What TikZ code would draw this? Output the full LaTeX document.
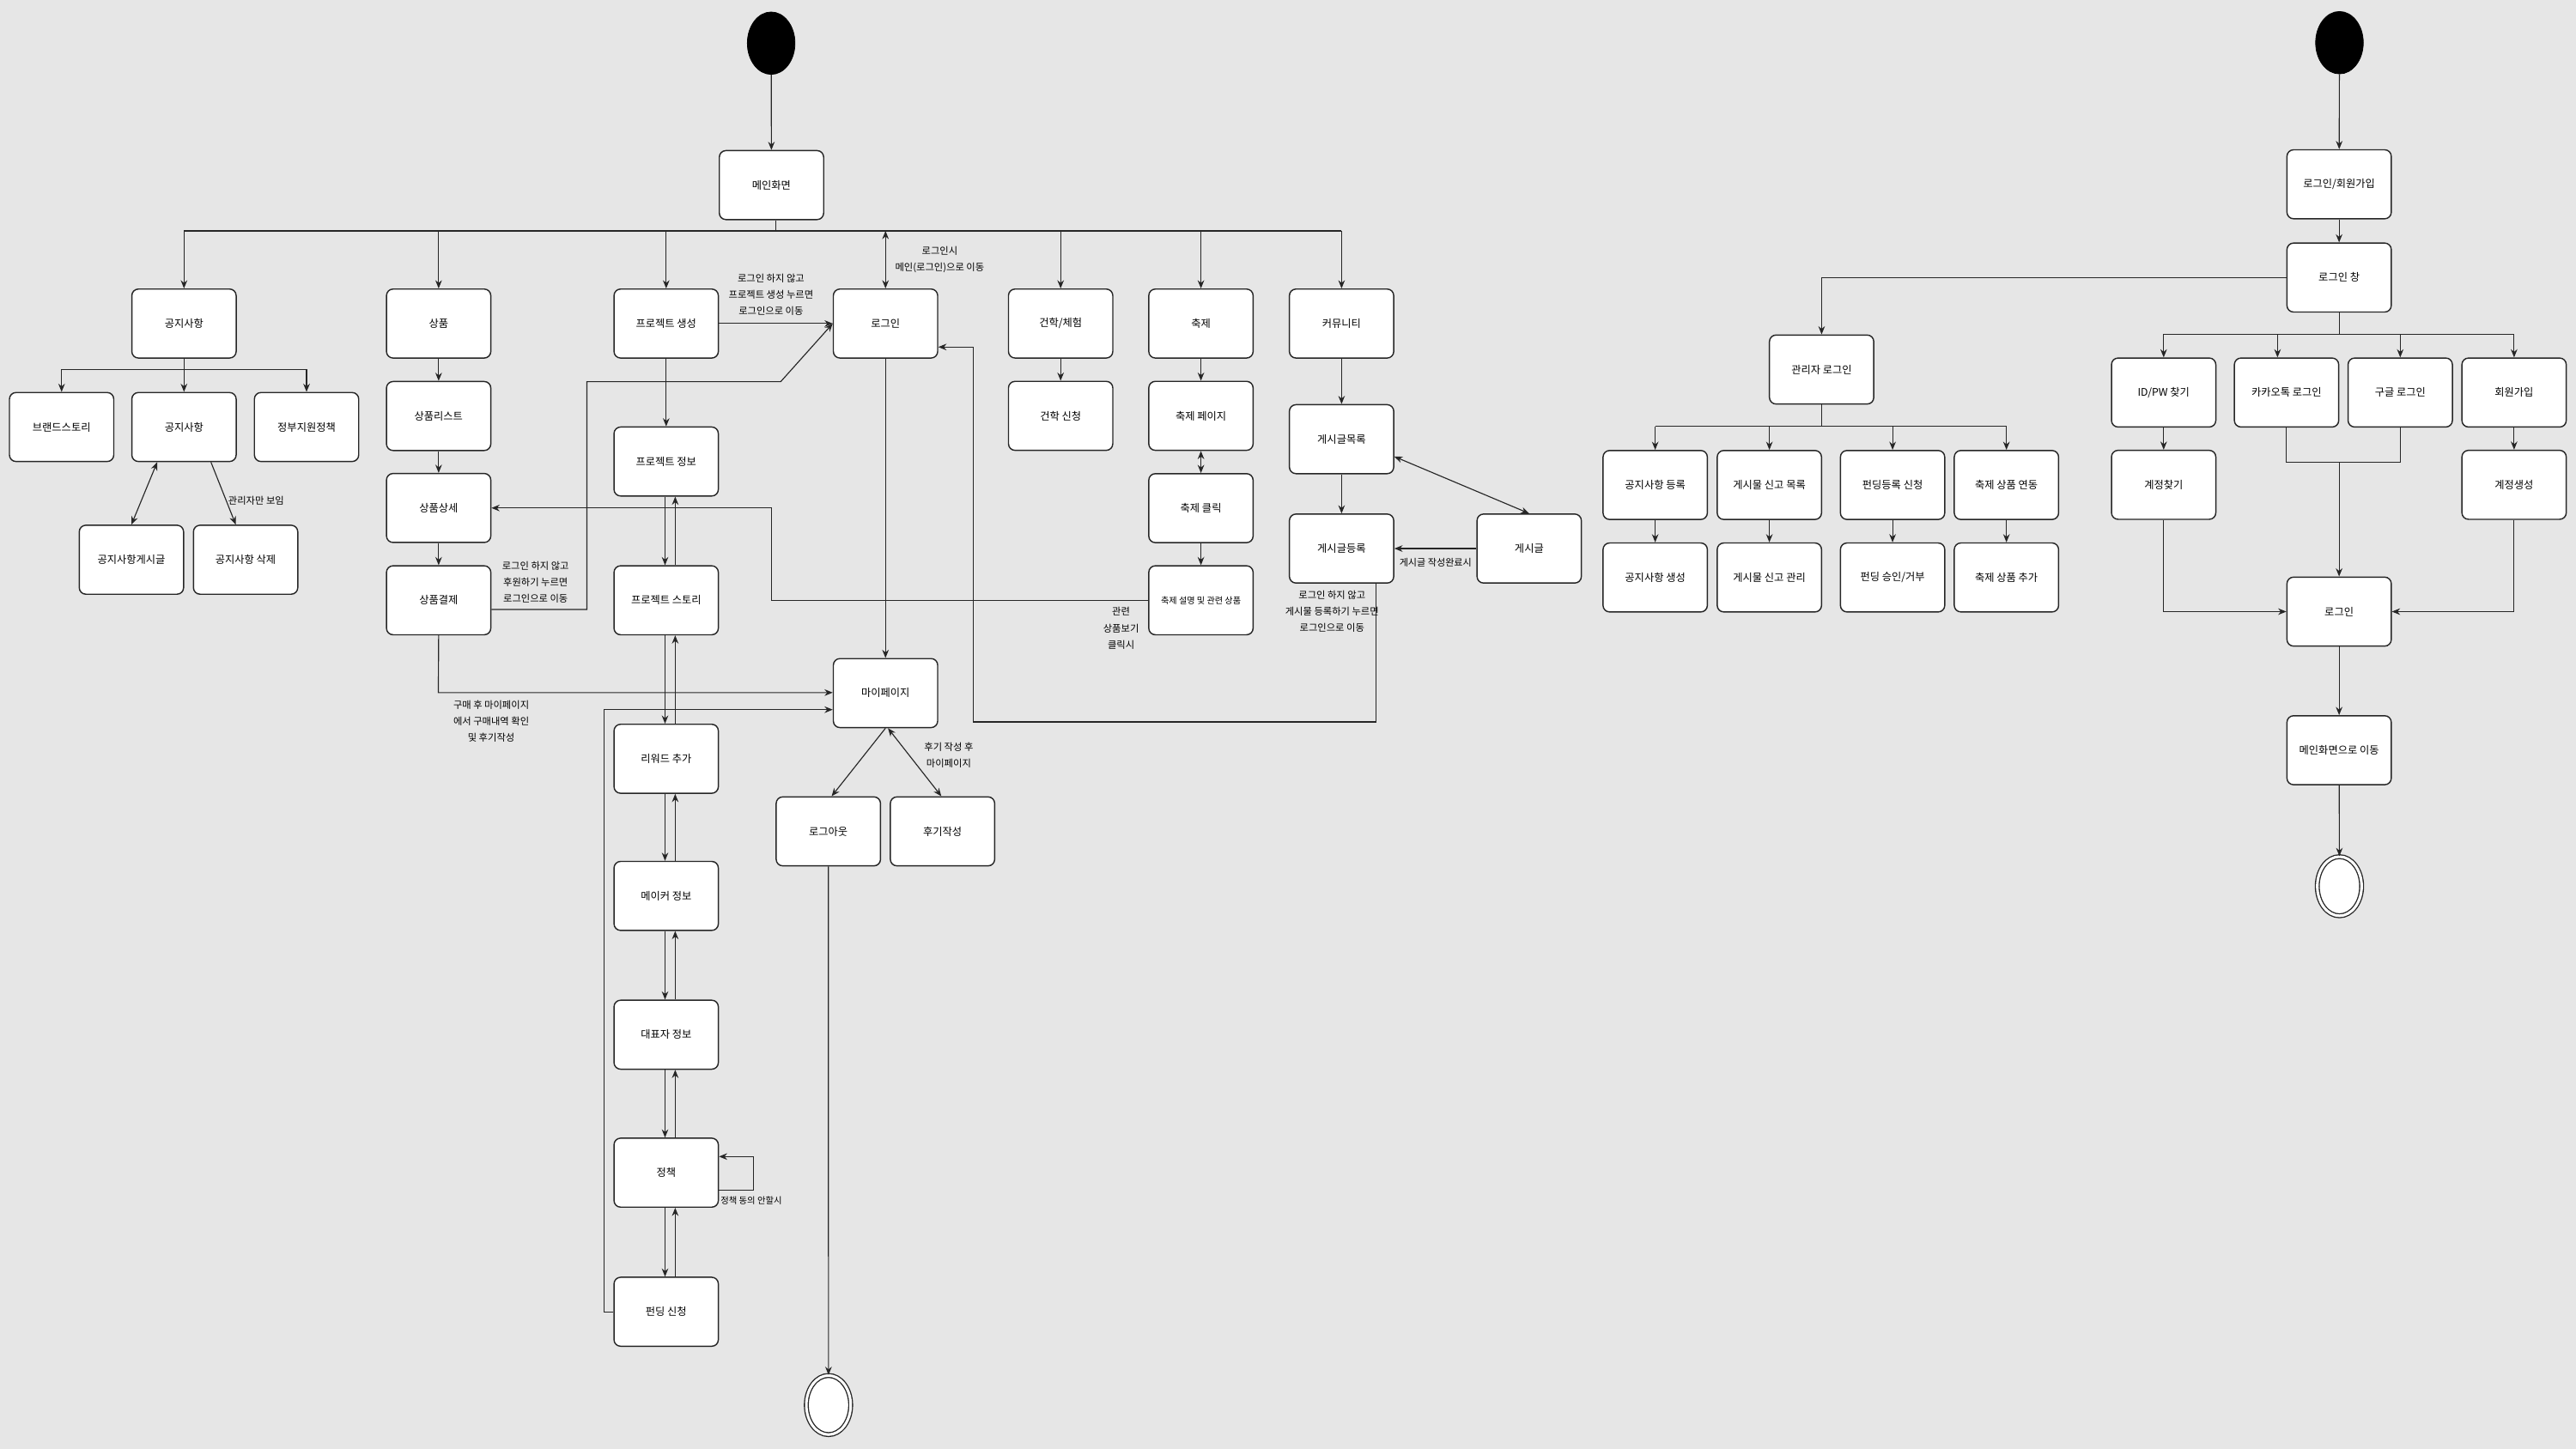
\documentclass[tikz,border=0pt]{standalone}
\usepackage{fontspec}
\setmainfont{Noto Sans CJK KR}
\usetikzlibrary{arrows.meta,shapes.geometric,calc}
\definecolor{bg}{HTML}{E6E6E6}
\definecolor{lnc}{HTML}{262626}
\begin{document}
\begin{tikzpicture}[x=1pt,y=-1pt,
  box/.style={draw=lnc, line width=0.75pt, fill=white, rounded corners=4pt, minimum width=63.5pt, minimum height=42pt, inner sep=1pt, font=\fontsize{6.4}{8}\selectfont, align=center},
  arr/.style={draw=lnc, line width=0.6pt, -{Stealth[length=5pt,width=4pt]}},
  darr/.style={draw=lnc, line width=0.6pt, {Stealth[length=5pt,width=4pt]}-{Stealth[length=5pt,width=4pt]}},
  lnst/.style={draw=lnc, line width=0.6pt},
  lbl/.style={font=\fontsize{5.9}{10}\selectfont, align=center, inner sep=0pt},
  startst/.style={ellipse, fill=black, draw=black, minimum width=29pt, minimum height=38pt, inner sep=0pt},
  endst/.style={ellipse, fill=white, draw=lnc, line width=0.7pt, double=white, double distance=1.6pt, minimum width=27pt, minimum height=36pt, inner sep=0pt}
]
\useasboundingbox (0,0) rectangle (1568,882);
\fill[bg] (0,0) rectangle (1568,882);

% ---------- left diagram nodes ----------
\node[startst] (s1) at (469.4,26.3) {};
\node[box] (main) at (469.6,112.7) {메인화면};
\node[box] (gongji) at (112,197) {공지사항};
\node[box] (sangpum) at (267,197) {상품};
\node[box] (proj) at (405.5,197) {프로젝트 생성};
\node[box] (login) at (539,197) {로그인};
\node[box] (gyunhak) at (645.6,197) {건학/체험};
\node[box] (chukje) at (731,197) {축제};
\node[box] (comm) at (816.6,197) {커뮤니티};
\node[box] (brand) at (37.5,260) {브랜드스토리};
\node[box] (gongji2) at (112,260) {공지사항};
\node[box] (jeongbu) at (186.6,260) {정부지원정책};
\node[box] (gpost) at (80,340.8) {공지사항게시글};
\node[box] (gdel) at (149.5,340.8) {공지사항 삭제};
\node[box] (plist) at (267,253.3) {상품리스트};
\node[box] (pdetail) at (267,309.3) {상품상세};
\node[box] (ppay) at (267,365.5) {상품결제};
\node[box] (pinfo) at (405.5,281) {프로젝트 정보};
\node[box] (pstory) at (405.5,365.5) {프로젝트 스토리};
\node[box] (reward) at (405.5,462) {리워드 추가};
\node[box] (maker) at (405.5,545.5) {메이커 정보};
\node[box] (ceo) at (405.5,630) {대표자 정보};
\node[box] (policy) at (405.5,714) {정책};
\node[box] (fund) at (405.5,798.7) {펀딩 신청};
\node[box] (mypage) at (539,422) {마이페이지};
\node[box] (logout) at (504.2,506.2) {로그아웃};
\node[box] (review) at (573.7,506.2) {후기작성};
\node[endst] (e1) at (504.3,855.5) {};
\node[box] (gapply) at (645.6,253.2) {건학 신청};
\node[box] (cpage) at (731,253.2) {축제 페이지};
\node[box] (cclick) at (731,309.4) {축제 클릭};
\node[box, font=\fontsize{5.3}{7}\selectfont] (cdesc) at (731,365.5) {축제 설명 및 관련 상품};
\node[box] (plist2) at (816.6,267.4) {게시글목록};
\node[box] (preg) at (816.6,334) {게시글등록};
\node[box] (post) at (930.8,334) {게시글};

% ---------- right diagram nodes ----------
\node[startst] (s2) at (1424,26) {};
\node[box] (rjoin) at (1423.8,112.2) {로그인/회원가입};
\node[box] (rwin) at (1423.8,169) {로그인 창};
\node[box] (admin) at (1108.8,225) {관리자 로그인};
\node[box] (a1) at (1007.5,295.3) {공지사항 등록};
\node[box] (a2) at (1077,295.3) {게시물 신고 목록};
\node[box] (a3) at (1152,295.3) {펀딩등록 신청};
\node[box] (a4) at (1221.3,295.3) {축제 상품 연동};
\node[box] (b1) at (1007.5,351.6) {공지사항 생성};
\node[box] (b2) at (1077,351.6) {게시물 신고 관리};
\node[box] (b3) at (1152,351.6) {펀딩 승인/거부};
\node[box] (b4) at (1221.3,351.6) {축제 상품 추가};
\node[box] (findid) at (1317,239) {ID/PW 찾기};
\node[box] (kakao) at (1391.8,239) {카카오톡 로그인};
\node[box] (google) at (1461,239) {구글 로그인};
\node[box] (signup) at (1530.3,239) {회원가입};
\node[box] (findacct) at (1317,295.2) {계정찾기};
\node[box] (makeacct) at (1530.3,295.2) {계정생성};
\node[box] (rlogin) at (1423.8,372.4) {로그인};
\node[box] (gomain) at (1423.8,456.8) {메인화면으로 이동};
\node[endst] (e2) at (1424,539.6) {};

% ---------- left connectors ----------
\coordinate (bus) at (0,140.6);
\draw[arr] (s1) -- (main);
\draw[lnst] ([xshift=2.5pt]main.south) -- ([xshift=2.5pt]main.south |- bus);
\draw[lnst] (gongji.north |- bus) -- (comm.north |- bus);
\foreach \n in {gongji,sangpum,proj,gyunhak,chukje,comm} \draw[arr] (\n.north |- bus) -- (\n.north);
\draw[darr] (login.north |- bus) -- (login.north);
\node[lbl] (lbmain) at (572,158.2) {로그인시\\메인(로그인)으로 이동};

\coordinate (gbus) at (0,224.8);
\draw[lnst] (gongji.south) -- (gongji.south |- gbus);
\draw[lnst] (brand.north |- gbus) -- (jeongbu.north |- gbus);
\foreach \n in {brand,gongji2,jeongbu} \draw[arr] (\n.north |- gbus) -- (\n.north);
\draw[darr] ([xshift=-16.3pt]gongji2.south) -- (gpost.north);
\draw[arr] ([xshift=16.4pt]gongji2.south) -- ([xshift=-6pt]gdel.north);
\node[lbl, anchor=west] (lbadm) at (138.8,305) {관리자만 보임};

\draw[arr] (sangpum) -- (plist);
\draw[arr] (plist) -- (pdetail);
\draw[arr] (pdetail) -- (ppay);

\coordinate (c1) at (357.2,371.1);
\draw[arr] (ppay.east |- c1) -- (c1) -- (357.2,232.4) -- (475.2,232.4) -- (login.west);
\node[lbl] (lbpay) at (326,354.6) {로그인 하지 않고\\후원하기 누르면\\로그인으로 이동};

\coordinate (c2) at (266.8,421.7);
\draw[arr] (ppay.south) -- (c2) -- (mypage.west |- c2);
\node[lbl] (lbbuy) at (299,439) {구매 후 마이페이지\\에서 구매내역 확인\\및 후기작성};

\draw[arr] (cdesc.west) -- (469.6,365.5) -- (469.6,309.3) -- (pdetail.east);
\node[lbl] (lbrel) at (682.4,382.5) {관련\\상품보기\\클릭시};

\draw[arr] (proj.east) -- (login.west);
\node[lbl] (lbproj) at (469.3,179.4) {로그인 하지 않고\\프로젝트 생성 누르면\\로그인으로 이동};

\draw[arr] (proj) -- (pinfo);
\foreach \a/\b in {pinfo/pstory,pstory/reward,reward/maker,maker/ceo,ceo/policy,policy/fund} {
  \draw[arr] ([xshift=-0.7pt]\a.south) -- ([xshift=-0.7pt]\b.north);
  \draw[arr] ([xshift=5.5pt]\b.north) -- ([xshift=5.5pt]\a.south);
}
\coordinate (l1) at (458.8,724.8);
\coordinate (l2) at (458.8,704.2);
\draw[arr] (policy.east |- l1) -- (l1) -- (l2) -- (policy.east |- l2);
\node[lbl, anchor=west, font=\fontsize{5.4}{8}\selectfont] (lbpol) at (438.5,731) {정책 동의 안할시};

\coordinate (c3) at (367.8,432.1);
\draw[arr] (fund.west) -- (fund.west -| c3) -- (c3) -- (mypage.west |- c3);

\draw[arr] (login) -- (mypage);
\draw[arr] (mypage.south) -- ([xshift=2pt]logout.north);
\draw[darr] ([xshift=1.5pt]mypage.south) -- ([xshift=-0.7pt]review.north);
\node[lbl] (lbrev) at (577.5,460) {후기 작성 후\\마이페이지};
\draw[arr] (logout) -- (e1);

\draw[arr] (gyunhak) -- (gapply);
\draw[arr] (chukje) -- (cpage);
\draw[darr] (cpage) -- (cclick);
\draw[arr] (cclick) -- (cdesc);
\draw[arr] (comm) -- (plist2);
\draw[arr] (plist2) -- (preg);
\draw[darr] ($(plist2.east)+(0,10.6)$) -- (post.north);
\draw[arr] (post.west) -- (preg.east);
\node[lbl, font=\fontsize{5.8}{8}\selectfont] (lbpost) at (873.8,342.6) {게시글 작성완료시};

\coordinate (c4) at (837.5,439.6);
\coordinate (c5) at (592.5,211.3);
\draw[arr] (preg.south -| c4) -- (c4) -- (c4 -| c5) -- (c5) -- (login.east |- c5);
\node[lbl] (lbreg) at (810.8,372.3) {로그인 하지 않고\\게시물 등록하기 누르면\\로그인으로 이동};

% ---------- right connectors ----------
\draw[arr] (s2) -- (rjoin);
\draw[arr] (rjoin) -- (rwin);
\draw[arr] (rwin.west) -- (rwin.west -| admin.north) -- (admin.north);
\coordinate (abus) at (0,259.6);
\draw[lnst] (admin.south) -- (admin.south |- abus);
\draw[lnst] (a1.north |- abus) -- (a4.north |- abus);
\foreach \n in {a1,a2,a3,a4} \draw[arr] (\n.north |- abus) -- (\n.north);
\draw[arr] (a1) -- (b1);
\draw[arr] (a2) -- (b2);
\draw[arr] (a3) -- (b3);
\draw[arr] (a4) -- (b4);

\coordinate (rbus) at (0,203.5);
\draw[lnst] (rwin.south) -- (rwin.south |- rbus);
\draw[lnst] (findid.north |- rbus) -- (signup.north |- rbus);
\foreach \n in {findid,google,signup} \draw[arr] (\n.north |- rbus) -- (\n.north);
\draw[arr] ([xshift=-5.5pt]kakao.north |- rbus) -- ([xshift=-5.5pt]kakao.north);
\draw[arr] (findid) -- (findacct);
\draw[arr] (signup) -- (makeacct);
\coordinate (kj) at (0,281.6);
\draw[lnst] (kakao.south) -- (kakao.south |- kj) -- (google.south |- kj) -- (google.south);
\draw[arr] (rlogin.north |- kj) -- (rlogin.north);
\draw[arr] (findacct.south) -- (findacct.south |- rlogin.west) -- (rlogin.west);
\draw[arr] (makeacct.south) -- (makeacct.south |- rlogin.east) -- (rlogin.east);
\draw[arr] (rlogin) -- (gomain);
\draw[arr] (gomain) -- (e2);
\end{tikzpicture}
\end{document}
